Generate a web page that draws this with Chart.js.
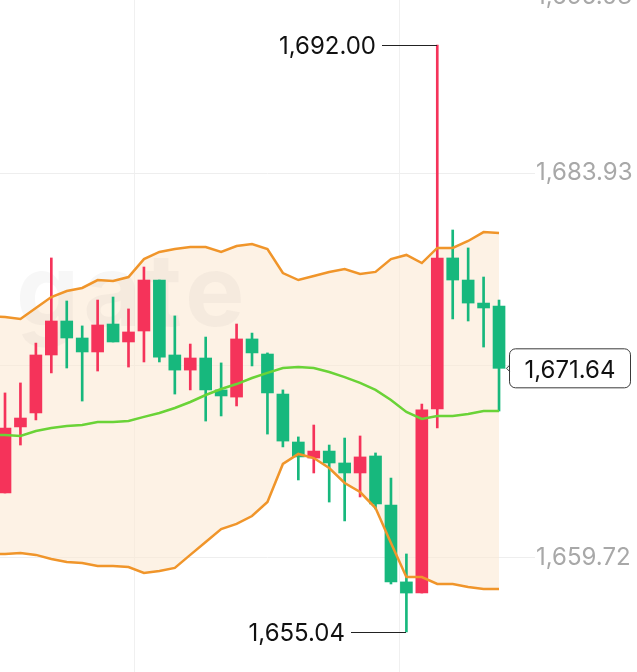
<!DOCTYPE html>
<html>
<head>
<meta charset="utf-8">
<script src="https://cdn.jsdelivr.net/npm/chart.js@4.4.1/dist/chart.umd.min.js"></script>
<style>
  html, body { margin: 0; padding: 0; background: #fff; overflow: hidden; }
  #wrap { position: relative; width: 637px; height: 672px; }
</style>
</head>
<body>
<div id="wrap"><canvas id="kline" width="637" height="672"></canvas></div>
<script>
// candles, one per index (red = rise, green = fall)
const open  = [1663.79, 1667.95, 1668.83, 1672.48, 1674.62, 1673.55, 1672.67, 1674.43, 1673.30, 1673.99,
               1677.20, 1672.48, 1671.53, 1672.29, 1670.28, 1669.83, 1673.49, 1672.54, 1670.02, 1667.00,
               1665.99, 1666.43, 1665.68, 1665.05, 1666.12, 1663.03, 1658.19, 1657.49, 1669.08, 1678.59,
               1677.20, 1675.75, 1675.56];
const high  = [1670.09, 1670.72, 1673.23, 1678.59, 1675.88, 1674.31, 1675.94, 1676.13, 1675.38, 1678.02,
               1677.20, 1674.94, 1673.17, 1673.61, 1671.98, 1674.43, 1673.86, 1672.61, 1670.28, 1667.32,
               1668.07, 1666.81, 1667.25, 1667.38, 1666.31, 1664.73, 1659.95, 1669.39, 1692.00, 1680.35,
               1679.22, 1677.39, 1675.94];
const low   = [1663.79, 1666.81, 1668.39, 1671.35, 1671.66, 1669.58, 1671.47, 1673.30, 1671.72, 1672.04,
               1672.04, 1670.02, 1670.28, 1668.32, 1668.64, 1669.27, 1671.79, 1667.50, 1666.69, 1664.61,
               1665.05, 1663.22, 1662.03, 1663.54, 1662.78, 1658.06, 1655.04, 1657.49, 1667.88, 1674.75,
               1674.62, 1672.98, 1668.95];
const close = [1667.88, 1668.51, 1672.48, 1674.62, 1673.55, 1672.67, 1674.37, 1673.30, 1673.93, 1677.20,
               1672.35, 1671.53, 1672.29, 1670.28, 1669.90, 1673.49, 1672.61, 1670.09, 1667.06, 1666.06,
               1666.43, 1665.68, 1665.05, 1666.06, 1663.10, 1658.19, 1657.49, 1669.02, 1678.59, 1677.20,
               1675.75, 1675.44, 1671.64];

// bollinger bands: first value sits one candle before the first candle
const upperBand = [1674.94, 1674.87, 1674.75, 1675.44, 1676.13, 1676.51, 1676.70, 1677.20, 1677.14, 1677.39,
                   1678.52, 1678.97, 1679.15, 1679.28, 1679.28, 1678.97, 1679.34, 1679.47, 1679.15, 1677.64,
                   1677.20, 1677.45, 1677.71, 1677.89, 1677.58, 1677.71, 1678.52, 1678.78, 1678.27, 1679.22,
                   1679.22, 1679.66, 1680.22, 1680.16];
const midBand   = [1667.44, 1667.44, 1667.38, 1667.69, 1667.88, 1668.01, 1668.07, 1668.26, 1668.26, 1668.32,
                   1668.58, 1668.83, 1669.14, 1669.52, 1669.96, 1670.34, 1670.65, 1671.03, 1671.35, 1671.66,
                   1671.72, 1671.66, 1671.41, 1671.09, 1670.72, 1670.28, 1669.65, 1668.89, 1668.45, 1668.64,
                   1668.64, 1668.76, 1668.95, 1668.95];
const lowerBand = [1659.95, 1659.95, 1660.01, 1659.89, 1659.63, 1659.44, 1659.38, 1659.19, 1659.19, 1659.13,
                   1658.75, 1658.88, 1659.07, 1659.89, 1660.70, 1661.52, 1661.84, 1662.34, 1663.22, 1665.62,
                   1666.25, 1665.99, 1665.36, 1664.42, 1663.85, 1662.84, 1660.64, 1658.50, 1658.50, 1658.06,
                   1658.06, 1657.87, 1657.74, 1657.74];

const yTicks = [1659.72, 1671.83, 1683.93, 1695.03];
const timeGrid = [8.36, 25.58];

const RED = '#f5335a';
const GREEN = '#17b87d';
const FONT = 'Inter, "Noto Sans", sans-serif';

const fmt = v => v.toLocaleString('en-US', { minimumFractionDigits: 2, maximumFractionDigits: 2 });
const candleColor = close.map((c, i) => c >= open[i] ? RED : GREEN);
const bandPts = arr => arr.map((v, i) => ({ x: i - 1, y: v }));

// high / low markers and last price tag
const markers = {
    id: 'markers',
    beforeDatasetsDraw(chart) {
        const { ctx, chartArea } = chart;
        ctx.save();
        ctx.beginPath();
        ctx.rect(chartArea.left, chartArea.top, chartArea.width, chartArea.height);
        ctx.clip();
        ctx.fillStyle = 'rgba(0,0,0,0.03)';
        ctx.font = 'bold 100px ' + FONT;
        ctx.letterSpacing = '4px';
        ctx.textBaseline = 'middle';
        ctx.fillText('gate', 16, 296);
        ctx.restore();
    },
    afterDatasetsDraw(chart) {
        const { ctx } = chart;
        const xs = chart.scales.x, ys = chart.scales.y;
        const hi = high.indexOf(Math.max(...high));
        const lo = low.indexOf(Math.min(...low));
        ctx.save();
        ctx.font = '24px ' + FONT;
        ctx.fillStyle = '#111';
        ctx.strokeStyle = '#222';
        ctx.lineWidth = 1;
        ctx.textAlign = 'right';
        ctx.textBaseline = 'middle';
        [[hi, high[hi]], [lo, low[lo]]].forEach(([i, v]) => {
            const x = Math.round(xs.getPixelForValue(i));
            const y = Math.round(ys.getPixelForValue(v)) + 0.5;
            ctx.beginPath();
            ctx.moveTo(x - 55, y);
            ctx.lineTo(x, y);
            ctx.stroke();
            ctx.fillText(fmt(v), x - 61, y + 1);
        });

        // last price tag
        const last = close.length - 1;
        const lx = Math.round(xs.getPixelForValue(last)) + 10.5;
        const ly = ys.getPixelForValue(close[last]);
        const w = 121, h = 39, r = 6;
        ctx.beginPath();
        ctx.roundRect(lx, ly - h / 2, w, h, r);
        ctx.fillStyle = '#fff';
        ctx.fill();
        ctx.strokeStyle = '#3a3a3a';
        ctx.stroke();
        ctx.beginPath();
        ctx.moveTo(lx, ly - 3);
        ctx.lineTo(lx - 3, ly);
        ctx.lineTo(lx, ly + 3);
        ctx.stroke();
        ctx.fillStyle = '#111';
        ctx.textAlign = 'center';
        ctx.fillText(fmt(close[last]), lx + w / 2, ly + 2);
        ctx.restore();
    }
};

new Chart(document.getElementById('kline'), {
    type: 'bar',
    data: {
        datasets: [
            {
                type: 'line', data: bandPts(upperBand), borderColor: '#f0952a', borderWidth: 2.5,
                pointRadius: 0, fill: 2, backgroundColor: 'rgba(252, 232, 210, 0.58)', order: 0
            },
            {
                type: 'line', data: bandPts(midBand), borderColor: '#6ad337', borderWidth: 2.5,
                pointRadius: 0, fill: false, order: 0
            },
            {
                type: 'line', data: bandPts(lowerBand), borderColor: '#f0952a', borderWidth: 2.5,
                pointRadius: 0, fill: false, order: 0
            },
            {
                data: open.map((o, i) => ({ x: i, y: [o, close[i]] })),
                backgroundColor: candleColor, barThickness: 12, minBarLength: 1, grouped: false, order: 1
            },
            {
                data: low.map((l, i) => ({ x: i, y: [l, high[i]] })),
                backgroundColor: candleColor, barThickness: 2, grouped: false, order: 2
            }
        ]
    },
    options: {
        responsive: false,
        animation: false,
        layout: { padding: 0 },
        plugins: {
            legend: { display: false },
            tooltip: { enabled: false },
            filler: { drawTime: 'beforeDatasetsDraw' }
        },
        scales: {
            x: {
                type: 'linear', min: -0.324, max: 34.33, offset: false,
                grid: { color: '#f0f0f0', drawTicks: false, offset: false },
                border: { display: false },
                ticks: { display: false },
                afterBuildTicks: s => { s.ticks = timeGrid.map(v => ({ value: v })); },
                afterFit: s => { s.height = 0; s.paddingLeft = 0; s.paddingRight = 0; }
            },
            y: {
                position: 'right', min: 1652.517, max: 1694.834, beginAtZero: false,
                grid: { color: '#eeeeee', drawTicks: false },
                border: { display: false },
                ticks: {
                    color: '#a8a8a8', padding: 1, crossAlign: 'near',
                    font: { family: FONT, size: 24 },
                    callback: v => fmt(v)
                },
                afterBuildTicks: s => { s.ticks = yTicks.map(v => ({ value: v })); },
                afterFit: s => { s.width = 102; s.paddingTop = 0; s.paddingBottom = 0; }
            }
        }
    },
    plugins: [markers]
});
</script>
</body>
</html>
